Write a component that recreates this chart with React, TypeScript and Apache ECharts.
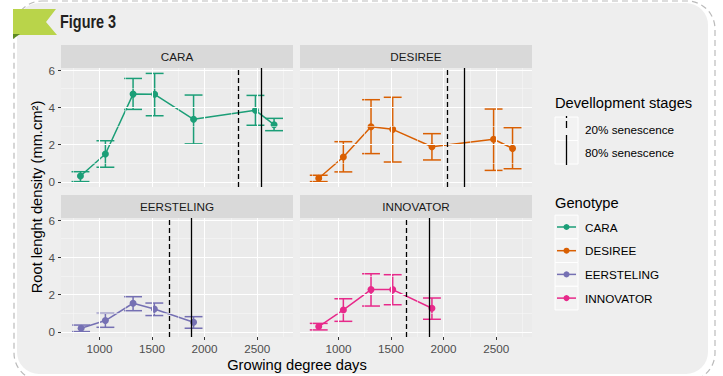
import React, { useEffect, useRef } from "react";
import * as echarts from "echarts";

const genotypes = ["CARA", "DESIREE", "EERSTELING", "INNOVATOR"];
const genotypeColors = ["#1B9E77", "#D95F02", "#7570B3", "#E7298A"];

const caraGdd = [820, 1057, 1320, 1525, 1895, 2483, 2660];
const caraMean = [0.32, 1.5, 4.71, 4.7, 3.36, 3.84, 3.07];
const caraLow = [0.02, 0.79, 3.89, 3.55, 2.04, 3.04, 2.75];
const caraHigh = [0.55, 2.21, 5.55, 5.82, 4.66, 4.64, 3.41];

const desireeGdd = [813, 1047, 1310, 1516, 1889, 2475, 2655];
const desireeMean = [0.2, 1.34, 2.96, 2.82, 1.89, 2.29, 1.8];
const desireeLow = [0.02, 0.54, 1.52, 1.07, 1.18, 0.62, 0.71];
const desireeHigh = [0.36, 2.16, 4.41, 4.54, 2.59, 3.91, 2.91];

const eerstelingGdd = [826, 1057, 1320, 1522, 1895];
const eerstelingMean = [0.2, 0.61, 1.54, 1.23, 0.52];
const eerstelingLow = [0.02, 0.25, 1.14, 0.88, 0.2];
const eerstelingHigh = [0.37, 1.0, 1.89, 1.55, 0.82];

const innovatorGdd = [813, 1047, 1310, 1516, 1889];
const innovatorMean = [0.29, 1.18, 2.27, 2.27, 1.27];
const innovatorLow = [0.11, 0.57, 1.39, 1.46, 0.68];
const innovatorHigh = [0.46, 1.78, 3.12, 3.07, 1.82];

const senescence20 = [2316, 2035, 1661, 1646];
const senescence80 = [2534, 2193, 1876, 1867];

const xTicks = [1000, 1500, 2000, 2500];
const xMinor = [750, 1250, 1750, 2250, 2750];
const yTicks = [0, 2, 4, 6];
const yMinor = [1, 3, 5];

const stageLabels = ["20% senescence", "80% senescence"];

const X_MIN = 635;
const X_MAX = 2840;
const Y_MIN = -0.27;
const Y_MAX = 6.11;
const CAP_HALF = 85;

const FONT = "'Liberation Sans', Arial, sans-serif";

const panelLeft = [61, 300, 61, 300];
const panelTop = [68, 68, 218, 218];
const PANEL_W = 232;
const PANEL_H = 119;
const STRIP_H = 23;

export default function App() {
  const ref = useRef<HTMLDivElement>(null);

  useEffect(() => {
    if (!ref.current) return;
    const chart = echarts.init(ref.current, null, { renderer: "svg" });

    const gdd = [caraGdd, desireeGdd, eerstelingGdd, innovatorGdd];
    const mean = [caraMean, desireeMean, eerstelingMean, innovatorMean];
    const low = [caraLow, desireeLow, eerstelingLow, innovatorLow];
    const high = [caraHigh, desireeHigh, eerstelingHigh, innovatorHigh];

    const grids = panelLeft.map((l, i) => ({
      left: l,
      top: panelTop[i],
      width: PANEL_W,
      height: PANEL_H,
      show: true,
      backgroundColor: "#EBEBEB",
      borderWidth: 0,
    }));

    const xAxes = panelLeft.map((_, i) => ({
      type: "value",
      gridIndex: i,
      min: X_MIN,
      max: X_MAX,
      axisLine: { show: false, onZero: false },
      splitLine: { show: false },
      axisTick: {
        show: i >= 2,
        customValues: xTicks,
        length: 3,
        lineStyle: { color: "#333333", width: 1 },
      },
      axisLabel: {
        show: i >= 2,
        customValues: xTicks,
        formatter: (v: number) => String(v),
        color: "#4D4D4D",
        fontSize: 11.7,
        fontFamily: FONT,
        margin: 5,
      },
    }));

    const yAxes = panelLeft.map((_, i) => ({
      type: "value",
      gridIndex: i,
      min: Y_MIN,
      max: Y_MAX,
      axisLine: { show: false, onZero: false },
      splitLine: { show: false },
      axisTick: {
        show: i % 2 === 0,
        customValues: yTicks,
        length: 3,
        lineStyle: { color: "#333333", width: 1 },
      },
      axisLabel: {
        show: i % 2 === 0,
        customValues: yTicks,
        formatter: (v: number) => String(v),
        color: "#4D4D4D",
        fontSize: 11.7,
        fontFamily: FONT,
        margin: 6,
      },
    }));

    const series: any[] = [];
    genotypes.forEach((g, i) => {
      const color = genotypeColors[i];
      series.push({
        type: "line",
        xAxisIndex: i,
        yAxisIndex: i,
        data: [],
        z: 1,
        silent: true,
        markLine: {
          silent: true,
          symbol: ["none", "none"],
          label: { show: false },
          lineStyle: { color: "#FFFFFF", type: "solid" },
          emphasis: { disabled: true },
          data: [
            ...xMinor.map((v) => ({ xAxis: v, lineStyle: { width: 0.55, color: "#F7F7F7", type: "solid" } })),
            ...yMinor.map((v) => ({ yAxis: v, lineStyle: { width: 0.55, color: "#F7F7F7", type: "solid" } })),
            ...xTicks.map((v) => ({ xAxis: v, lineStyle: { width: 1.1, color: "#FFFFFF", type: "solid" } })),
            ...yTicks.map((v) => ({ yAxis: v, lineStyle: { width: 1.1, color: "#FFFFFF", type: "solid" } })),
          ],
        },
      });
      series.push({
        type: "custom",
        name: g,
        xAxisIndex: i,
        yAxisIndex: i,
        z: 3,
        silent: true,
        data: gdd[i].map((x, k) => [x, low[i][k], high[i][k]]),
        encode: { x: 0, y: [1, 2] },
        renderItem: (params: any, api: any) => {
          const x = api.value(0);
          const lo = api.value(1);
          const hi = api.value(2);
          const a = api.coord([x, lo]);
          const b = api.coord([x, hi]);
          const aL = api.coord([x - CAP_HALF, lo]);
          const aR = api.coord([x + CAP_HALF, lo]);
          const bL = api.coord([x - CAP_HALF, hi]);
          const bR = api.coord([x + CAP_HALF, hi]);
          const st = { stroke: color, lineWidth: 1.5 };
          return {
            type: "group",
            children: [
              { type: "line", shape: { x1: a[0], y1: a[1], x2: b[0], y2: b[1] }, style: st },
              { type: "line", shape: { x1: aL[0], y1: aL[1], x2: aR[0], y2: aR[1] }, style: st },
              { type: "line", shape: { x1: bL[0], y1: bL[1], x2: bR[0], y2: bR[1] }, style: st },
            ],
          };
        },
      });
      series.push({
        type: "line",
        name: g,
        xAxisIndex: i,
        yAxisIndex: i,
        z: 4,
        data: gdd[i].map((x, k) => [x, mean[i][k]]),
        symbol: "circle",
        symbolSize: 7,
        showSymbol: true,
        itemStyle: { color },
        lineStyle: { color, width: 1.5 },
      });
      series.push({
        type: "line",
        xAxisIndex: i,
        yAxisIndex: i,
        data: [],
        z: 5,
        silent: true,
        markLine: {
          silent: true,
          symbol: ["none", "none"],
          label: { show: false },
          emphasis: { disabled: true },
          data: [
            { xAxis: senescence20[i], lineStyle: { color: "#000000", width: 1.3, type: [5, 3] } },
            { xAxis: senescence80[i], lineStyle: { color: "#000000", width: 1.3, type: "solid" } },
          ],
        },
      });
    });

    const graphics: any[] = [];
    graphics.push({
      type: "rect",
      z: -20,
      shape: { x: 14, y: 1, width: 701, height: 380, r: 28 },
      style: { fill: "#FFFFFF", stroke: "#BBBBBB", lineWidth: 1.2, lineDash: [6, 4] },
    });
    graphics.push({
      type: "rect",
      z: -19,
      shape: { x: 17, y: 3, width: 691, height: 371, r: 22 },
      style: { fill: "#EEEEEE" },
    });
    graphics.push({
      type: "polygon",
      z: 10,
      shape: { points: [[13, 9], [56, 9], [46, 22], [57, 35], [13, 35]] },
      style: { fill: "#B9D44A" },
    });
    graphics.push({
      type: "polygon",
      z: 10,
      shape: { points: [[13, 34], [20, 34], [13, 39]] },
      style: { fill: "#5E8A22" },
    });
    graphics.push({
      type: "text",
      z: 10,
      x: 60,
      y: 22,
      scaleX: 0.76,
      style: {
        text: "Figure 3",
        fill: "#231F20",
        font: "bold 19px 'Liberation Sans', Arial, sans-serif",
        verticalAlign: "middle",
        align: "left",
      },
    });
    genotypes.forEach((g, i) => {
      graphics.push({
        type: "rect",
        z: 5,
        shape: { x: panelLeft[i], y: panelTop[i] - STRIP_H, width: PANEL_W, height: STRIP_H },
        style: { fill: "#D9D9D9" },
      });
      graphics.push({
        type: "text",
        z: 6,
        x: panelLeft[i] + PANEL_W / 2,
        y: panelTop[i] - STRIP_H / 2,
        style: {
          text: g,
          fill: "#1A1A1A",
          fontSize: 11.7,
          fontFamily: FONT,
          align: "center",
          verticalAlign: "middle",
        },
      });
    });
    graphics.push({
      type: "text",
      z: 6,
      x: 37,
      y: 197,
      rotation: Math.PI / 2,
      style: {
        text: "Root lenght density (mm.cm²)",
        fill: "#000000",
        fontSize: 14.7,
        fontFamily: FONT,
        align: "center",
        verticalAlign: "middle",
      },
    });
    graphics.push({
      type: "text",
      z: 6,
      x: 297,
      y: 365,
      style: {
        text: "Growing degree days",
        fill: "#000000",
        fontSize: 14.7,
        fontFamily: FONT,
        align: "center",
        verticalAlign: "middle",
      },
    });
    graphics.push({
      type: "text",
      z: 6,
      x: 555,
      y: 103,
      style: { text: "Devellopment stages", fill: "#000", fontSize: 14.7, fontFamily: FONT, verticalAlign: "middle" },
    });
    [0, 1].forEach((k) => {
      const cy = 129 + k * 23.5;
      graphics.push({
        type: "rect",
        z: 5,
        shape: { x: 555, y: cy - 12, width: 23, height: 23.5 },
        style: { fill: "#F2F2F2", stroke: "#FFFFFF", lineWidth: 1 },
      });
      graphics.push({
        type: "text",
        z: 6,
        x: 585,
        y: cy,
        style: { text: stageLabels[k], fill: "#000", fontSize: 11.7, fontFamily: FONT, verticalAlign: "middle" },
      });
    });
    graphics.push({
      type: "line",
      z: 7,
      shape: { x1: 566.5, y1: 116, x2: 566.5, y2: 141 },
      style: { stroke: "#000", lineWidth: 1.3, lineDash: [2, 3, 7, 30] },
    });
    graphics.push({
      type: "line",
      z: 7,
      shape: { x1: 566.5, y1: 135, x2: 566.5, y2: 165 },
      style: { stroke: "#000", lineWidth: 1.3 },
    });
    graphics.push({
      type: "text",
      z: 6,
      x: 555,
      y: 203,
      style: { text: "Genotype", fill: "#000", fontSize: 14.7, fontFamily: FONT, verticalAlign: "middle" },
    });
    genotypes.forEach((g, k) => {
      const cy = 227 + k * 23.7;
      graphics.push({
        type: "rect",
        z: 5,
        shape: { x: 555, y: cy - 11.85, width: 23, height: 23.7 },
        style: { fill: "#F2F2F2", stroke: "#FFFFFF", lineWidth: 1 },
      });
      graphics.push({
        type: "line",
        z: 7,
        shape: { x1: 557, y1: cy, x2: 576, y2: cy },
        style: { stroke: genotypeColors[k], lineWidth: 1.5 },
      });
      graphics.push({
        type: "circle",
        z: 7,
        shape: { cx: 566.5, cy, r: 3 },
        style: { fill: genotypeColors[k] },
      });
      graphics.push({
        type: "text",
        z: 6,
        x: 585,
        y: cy,
        style: { text: g, fill: "#000", fontSize: 11.7, fontFamily: FONT, verticalAlign: "middle" },
      });
    });

    chart.setOption({
      animation: false,
      backgroundColor: "transparent",
      textStyle: { fontFamily: FONT },
      grid: grids,
      xAxis: xAxes,
      yAxis: yAxes,
      series,
      graphic: { elements: graphics },
    });

    return () => chart.dispose();
  }, []);

  return (
    <div
      ref={ref}
      style={{ position: "absolute", left: 0, top: 0, width: 723, height: 376, background: "#FFFFFF" }}
    />
  );
}
